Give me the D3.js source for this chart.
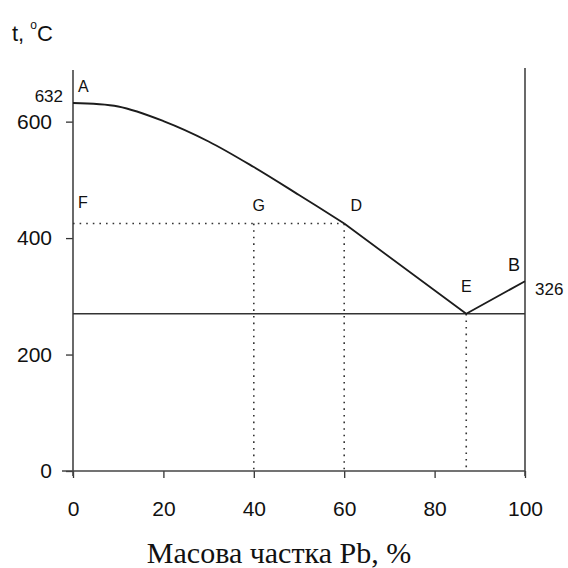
<!DOCTYPE html>
<html>
<head>
<meta charset="utf-8">
<script src="https://cdn.jsdelivr.net/npm/d3@7/dist/d3.min.js"></script>
<style>
  html, body { margin: 0; padding: 0; background: #fff; }
  svg { display: block; }
</style>
</head>
<body>
<svg id="chart" width="568" height="568"></svg>
<script>
// ---- data ----
const liquidusPb = [0, 10, 20, 30, 40, 50, 60];
const liquidusT  = [632, 626, 601, 566, 522, 474, 425];
const eutecticPb = 87;
const eutecticT = 270;
const meltB = [100, 326];
const tieT = 425;
const tieVerticalsPb = [40, 60];
const xTicks = [0, 20, 40, 60, 80, 100];
const yTicks = [0, 200, 400, 600];
const pointLabels = ["A", "F", "G", "D", "E", "B"];

const svg = d3.select("#chart");
const x = d3.scaleLinear().domain([0, 100]).range([73, 525]);
const y = d3.scaleLinear().domain([0, 632]).range([471, 103]);

const ink = "#1c1c1c";
const sans = "'Liberation Sans', Arial, sans-serif";

// axes
const yAxis = d3.axisLeft(y).tickValues(yTicks).tickSize(7).tickPadding(14).tickFormat(d3.format("d"));
const gy = svg.append("g").attr("transform", `translate(${x(0)},0)`).call(yAxis);
gy.select(".domain").remove();
gy.selectAll("line").attr("stroke", "#333").attr("stroke-width", 1.3);
gy.selectAll("text").attr("font-family", sans).attr("font-size", 21).attr("fill", "#111");

const xAxis = d3.axisBottom(x).tickValues(xTicks).tickSize(7).tickPadding(23).tickFormat(d3.format("d"));
const gx = svg.append("g").attr("transform", `translate(0,${y(0)})`).call(xAxis);
gx.select(".domain").remove();
gx.selectAll("line").attr("stroke", "#333").attr("stroke-width", 1.3);
gx.selectAll("text").attr("font-family", sans).attr("font-size", 21).attr("fill", "#111");

// axis lines
svg.append("line").attr("x1", x(0)).attr("x2", x(0)).attr("y1", y(632) - 33).attr("y2", y(0) + 5)
  .attr("stroke", "#444").attr("stroke-width", 1.6);
svg.append("line").attr("x1", x(0) - 11).attr("x2", x(100)).attr("y1", y(0)).attr("y2", y(0))
  .attr("stroke", "#444").attr("stroke-width", 1.5);
svg.append("line").attr("x1", x(100)).attr("x2", x(100)).attr("y1", y(632) - 35).attr("y2", y(0) + 5)
  .attr("stroke", "#444").attr("stroke-width", 1.6);

// dotted construction lines
const dot = sel => sel.attr("stroke", "#333").attr("stroke-width", 1.6).attr("stroke-dasharray", "1.6,5").attr("fill", "none");
svg.append("line").attr("x1", x(0)).attr("x2", x(60)).attr("y1", y(tieT)).attr("y2", y(tieT)).call(dot);
tieVerticalsPb.forEach(p => {
  svg.append("line").attr("x1", x(p)).attr("x2", x(p)).attr("y1", y(tieT)).attr("y2", y(0)).call(dot);
});
svg.append("line").attr("x1", x(eutecticPb)).attr("x2", x(eutecticPb)).attr("y1", y(eutecticT)).attr("y2", y(0)).call(dot);

// eutectic (solidus) line
svg.append("line").attr("x1", x(0)).attr("x2", x(100)).attr("y1", y(eutecticT)).attr("y2", y(eutecticT))
  .attr("stroke", "#333").attr("stroke-width", 1.6);

// liquidus A-D (smooth)
const liq = liquidusPb.map((p, i) => [p, liquidusT[i]]);
svg.append("path").datum(liq)
  .attr("d", d3.line().x(d => x(d[0])).y(d => y(d[1])).curve(d3.curveCatmullRom.alpha(0.5)))
  .attr("fill", "none").attr("stroke", ink).attr("stroke-width", 1.8);
// liquidus D-E-B (straight)
svg.append("path").datum([liq[liq.length - 1], [eutecticPb, eutecticT], meltB])
  .attr("d", d3.line().x(d => x(d[0])).y(d => y(d[1])))
  .attr("fill", "none").attr("stroke", ink).attr("stroke-width", 1.8).attr("stroke-linejoin", "round");

// point labels
const lbl = (t, px, py, anchor, size) => svg.append("text").text(t)
  .attr("x", px).attr("y", py).attr("text-anchor", anchor || "start")
  .attr("font-family", sans).attr("font-size", size || 16).attr("fill", "#111");
lbl(pointLabels[0], x(0) + 5, y(632) - 11);
lbl(pointLabels[1], x(0) + 5, y(tieT) - 16);
lbl(pointLabels[2], x(40) + 5, y(tieT) - 13, "middle");
lbl(pointLabels[3], x(60) + 12, y(tieT) - 13, "middle");
lbl(pointLabels[4], x(eutecticPb), y(eutecticT) - 22, "middle");
lbl(pointLabels[5], x(100) - 17, y(meltB[1]) - 10, "start", 18);
lbl(String(meltB[1]), x(100) + 10, y(meltB[1]) + 14, "start", 17);
lbl(String(liquidusT[0]), x(0) - 10, y(632) - 1, "end", 17);

// y title
const t = svg.append("text").attr("x", 12).attr("y", 41)
  .attr("font-family", sans).attr("font-size", 22).attr("fill", "#111");
t.append("tspan").text("t, ");
t.append("tspan").text("o").attr("font-size", 12).attr("dy", -12);
t.append("tspan").text("C").attr("dy", 12);

// x title
svg.append("text").text("Масова частка Pb, %")
  .attr("x", 279).attr("y", 563).attr("text-anchor", "middle")
  .attr("font-family", "'Liberation Serif', 'Times New Roman', serif")
  .attr("font-size", 30).attr("fill", "#111");
</script>
</body>
</html>
